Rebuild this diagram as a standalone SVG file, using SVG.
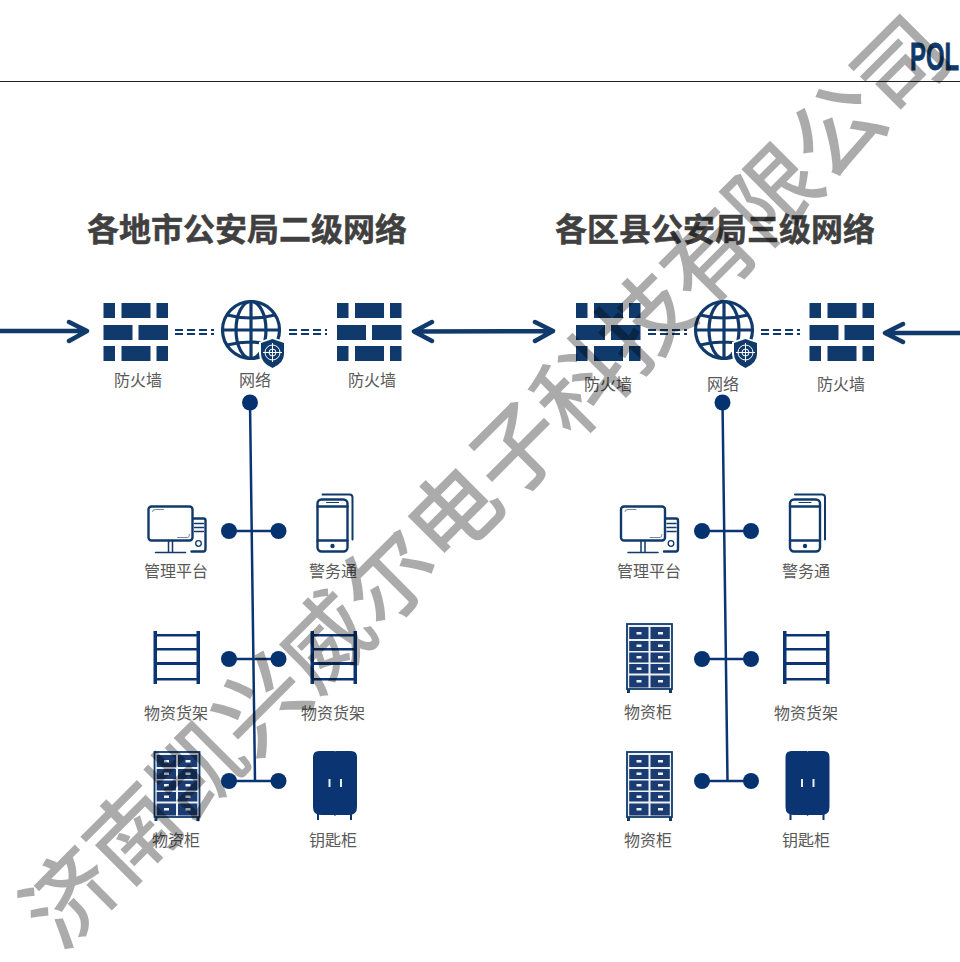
<svg xmlns="http://www.w3.org/2000/svg" xmlns:xlink="http://www.w3.org/1999/xlink" width="960" height="962" viewBox="0 0 960 962">
<style>
text{font-family:"Noto Sans CJK SC","Liberation Sans",sans-serif}
.lb{font-size:16px;fill:#595959;text-anchor:middle}
.ti{font-size:32px;font-weight:700;fill:#404040;stroke:#404040;stroke-width:.5;text-anchor:middle}
.n{fill:#103a6b}
.o{fill:none;stroke:#103a6b;stroke-width:2.4;stroke-linecap:round;stroke-linejoin:round}
.g{fill:none;stroke:#103a6b;stroke-width:3.2}
.link{fill:none;stroke:#0a3572;stroke-width:2.5}
.dot{fill:#053370}
.arr{fill:none;stroke:#103a6b;stroke-width:4.500;stroke-linecap:round;stroke-linejoin:round}
.dash{fill:none;stroke:#103a6b;stroke-width:2;stroke-dasharray:8 4}
.wm{font-size:90.500px;font-weight:500;fill:#000;fill-opacity:.33;text-anchor:middle}
</style>
<defs>
<g id="fw" class="n">
<rect x="0" y="0" width="11.500" height="15"/><rect x="18" y="0" width="29" height="15"/><rect x="53" y="0" width="11.500" height="15"/>
<rect x="0" y="22" width="29" height="15"/><rect x="35" y="22" width="29.500" height="15"/>
<rect x="0" y="43" width="11.500" height="15"/><rect x="18" y="43" width="29" height="15"/><rect x="53" y="43" width="11.500" height="15"/>
</g>
<g id="globe">
<circle class="g" r="28.500"/>
<ellipse class="g" rx="15" ry="28.500"/>
<path class="g" d="M0-28.500V28.500M-28.500 0H28.500M-24-15Q0-9 24-15M-24 15Q0 9 24 15"/>
<path d="M21 7L35 12V24Q35 34 21.500 40Q8 34 8 24V12Z" fill="#fff"/>
<path class="n" d="M21.500 9L33 13V24Q33 33 21.500 38Q10 33 10 24V13Z"/>
<circle cx="21.500" cy="22.500" r="7.500" fill="none" stroke="#fff" stroke-width="1"/>
<circle cx="21.500" cy="22.500" r="3.500" fill="none" stroke="#fff" stroke-width="1"/>
<path d="M21.500 13V32M12 22.500H31" stroke="#fff" stroke-width="1"/>
</g>
<g id="pc" class="o">
<rect x="1" y="1" width="44" height="34" rx="3"/>
<path d="M5 6Q5 4 8 4H16M30 32H40Q42 32 42 29" stroke-width="1" opacity=".6"/>
<path d="M21 35V46M25 35V46M8 47H38" stroke-width="1.500"/>
<path d="M46 13H56Q58 13 58 15V43Q58 46 56 46H44"/>
<path d="M47 18H56M47 22H56M47 26H56" stroke-width="1.300"/>
<circle cx="51" cy="38" r="2.800" stroke-width="1.300"/>
</g>
<g id="phone" class="o">
<path d="M6 1H33Q36 1 36 4V46" stroke-width="2"/>
<rect x="1" y="6" width="30" height="52" rx="4"/>
<path d="M1 13H31M1 47H31"/>
<path d="M10 9H22" stroke-width="1.200"/>
<circle cx="16" cy="52.500" r="2.200" fill="#103a6b" stroke="none"/>
</g>
<g id="shelf" fill="#0a3572">
<rect x="0" y="0" width="3.500" height="53"/><rect x="43" y="0" width="3.500" height="53"/>
<rect x="3" y="3" width="41" height="2.500"/><rect x="3" y="17" width="41" height="2.500"/><rect x="3" y="31" width="41" height="3"/><rect x="3" y="47" width="41" height="2.500"/>
</g>
<g id="cab">
<rect x="0" y="0" width="45" height="65" fill="#eef1f5" stroke="#103a6b" stroke-width="1.800"/>
<path d="M0 65V69H3V65M42 65V69H45V65" fill="#103a6b"/>
<g fill="#1a3c72">
<rect x="2.200" y="3" width="19.300" height="12"/><rect x="23.500" y="3" width="19.300" height="12"/>
<rect x="2.200" y="17" width="19.300" height="10"/><rect x="23.500" y="17" width="19.300" height="10"/>
<rect x="2.200" y="28.500" width="19.300" height="10"/><rect x="23.500" y="28.500" width="19.300" height="10"/>
<rect x="2.200" y="40" width="19.300" height="9.500"/><rect x="23.500" y="40" width="19.300" height="9.500"/>
<rect x="2.200" y="51.500" width="19.300" height="12"/><rect x="23.500" y="51.500" width="19.300" height="12"/>
</g>
<g fill="#f2f2f2">
<rect x="9.500" y="8" width="5" height="2.500"/><rect x="31" y="8" width="5" height="2.500"/>
<rect x="9.500" y="20.500" width="5" height="2.500"/><rect x="31" y="20.500" width="5" height="2.500"/>
<rect x="9.500" y="32" width="5" height="2.500"/><rect x="31" y="32" width="5" height="2.500"/>
<rect x="9.500" y="43.500" width="5" height="2.500"/><rect x="31" y="43.500" width="5" height="2.500"/>
<rect x="9.500" y="56" width="5" height="2.500"/><rect x="31" y="56" width="5" height="2.500"/>
</g>
</g>
<g id="key">
<path fill="#0a3572" d="M6 0H21.500L22 .8L22.500 0H38Q44 0 44 6V56Q44 64 36 64H23L22 65L21 64H8Q0 64 0 56V6Q0 0 6 0Z"/>
<rect x="4" y="63" width="2" height="6" fill="#0a3572"/><rect x="37" y="63" width="2" height="6" fill="#0a3572"/>
<rect x="15.500" y="28" width="2" height="8" fill="#e8edf3"/><rect x="27" y="28" width="2" height="8" fill="#e8edf3"/>
</g>
</defs>

<rect width="960" height="962" fill="#fff"/>
<g id="header">
<path d="M0 81.500H960" stroke="#222" stroke-width="1" fill="none"/>
<text x="910" y="70" font-size="39" font-weight="700" fill="#103a6b" stroke="#103a6b" stroke-width=".8" textLength="49" lengthAdjust="spacingAndGlyphs" style="font-family:'Liberation Sans Narrow','Liberation Sans',sans-serif">POL</text>
</g>
<text id="title-2" class="ti" x="247" y="241">各地市公安局二级网络</text>
<text id="title-3" class="ti" x="715" y="241">各区县公安局三级网络</text>

<g id="connectors">
<path class="arr" d="M0 331H86M69 322L87 331L69 341"/>
<path class="arr" d="M415 331.500L553 331M432 322L414 331.500L432 341M535 322L553 331L535 341"/>
<path class="arr" d="M960 333H886M903 324L885 333L903 342"/>
<path class="dash" d="M175 330H214M175 334H214M289 330H327M289 334H327M648 330H687M648 334H687M761 330H800M761 334H800"/>
<path class="link" d="M250 402L255 781M229 531H278M229 659H278M229 781H278"/>
<path class="link" d="M722.500 402L727.500 781M702 531H751M702 659H751M702 781H751"/>
<g class="dot">
<circle cx="250" cy="402.500" r="8"/><circle cx="229" cy="531" r="8"/><circle cx="278.500" cy="531" r="8"/><circle cx="229" cy="659" r="8"/><circle cx="278.500" cy="659" r="8"/><circle cx="229" cy="781" r="8"/><circle cx="278.500" cy="781" r="8"/>
<circle cx="722.500" cy="402.500" r="8"/><circle cx="702" cy="531" r="8"/><circle cx="751" cy="531" r="8"/><circle cx="702" cy="659" r="8"/><circle cx="751" cy="659" r="8"/><circle cx="702" cy="781" r="8"/><circle cx="751" cy="781" r="8"/>
</g>
</g>

<g id="n2-fw1"><use xlink:href="#fw" x="103.500" y="303"/><text class="lb" x="138" y="386">防火墙</text></g>
<g id="n2-net"><use xlink:href="#globe" x="251" y="330"/><text class="lb" x="255" y="386">网络</text></g>
<g id="n2-fw2"><use xlink:href="#fw" x="337" y="303"/><text class="lb" x="372" y="386">防火墙</text></g>
<g id="n2-pc"><use xlink:href="#pc" x="147.500" y="505.500"/><text class="lb" x="176" y="577">管理平台</text></g>
<g id="n2-phone"><use xlink:href="#phone" x="316.500" y="493.500"/><text class="lb" x="333" y="577">警务通</text></g>
<g id="n2-shelf1"><use xlink:href="#shelf" x="153.500" y="631"/><text class="lb" x="176" y="719">物资货架</text></g>
<g id="n2-shelf2"><use xlink:href="#shelf" x="310.500" y="631"/><text class="lb" x="333" y="719">物资货架</text></g>
<g id="n2-cab"><use xlink:href="#cab" x="154.500" y="752"/><text class="lb" x="176" y="846">物资柜</text></g>
<g id="n2-key"><use xlink:href="#key" x="313" y="751"/><text class="lb" x="333" y="846">钥匙柜</text></g>

<g id="n3-fw1"><use xlink:href="#fw" x="576" y="303"/><text class="lb" x="608" y="390">防火墙</text></g>
<g id="n3-net"><use xlink:href="#globe" x="724" y="330"/><text class="lb" x="723" y="390">网络</text></g>
<g id="n3-fw2"><use xlink:href="#fw" x="809.500" y="303"/><text class="lb" x="841" y="390">防火墙</text></g>
<g id="n3-pc"><use xlink:href="#pc" x="620" y="505.500"/><text class="lb" x="649" y="577">管理平台</text></g>
<g id="n3-phone"><use xlink:href="#phone" x="789" y="493.500"/><text class="lb" x="806" y="577">警务通</text></g>
<g id="n3-cab1"><use xlink:href="#cab" x="627" y="624"/><text class="lb" x="648" y="718">物资柜</text></g>
<g id="n3-shelf"><use xlink:href="#shelf" x="783" y="631"/><text class="lb" x="806" y="719">物资货架</text></g>
<g id="n3-cab2"><use xlink:href="#cab" x="627" y="752"/><text class="lb" x="648" y="846">物资柜</text></g>
<g id="n3-key"><use xlink:href="#key" x="785.500" y="751"/><text class="lb" x="806" y="846">钥匙柜</text></g>

<text id="watermark" class="wm" transform="translate(486 482) rotate(-45)" x="0" y="32">济南凯兴威尔电子科技有限公司</text>
</svg>
